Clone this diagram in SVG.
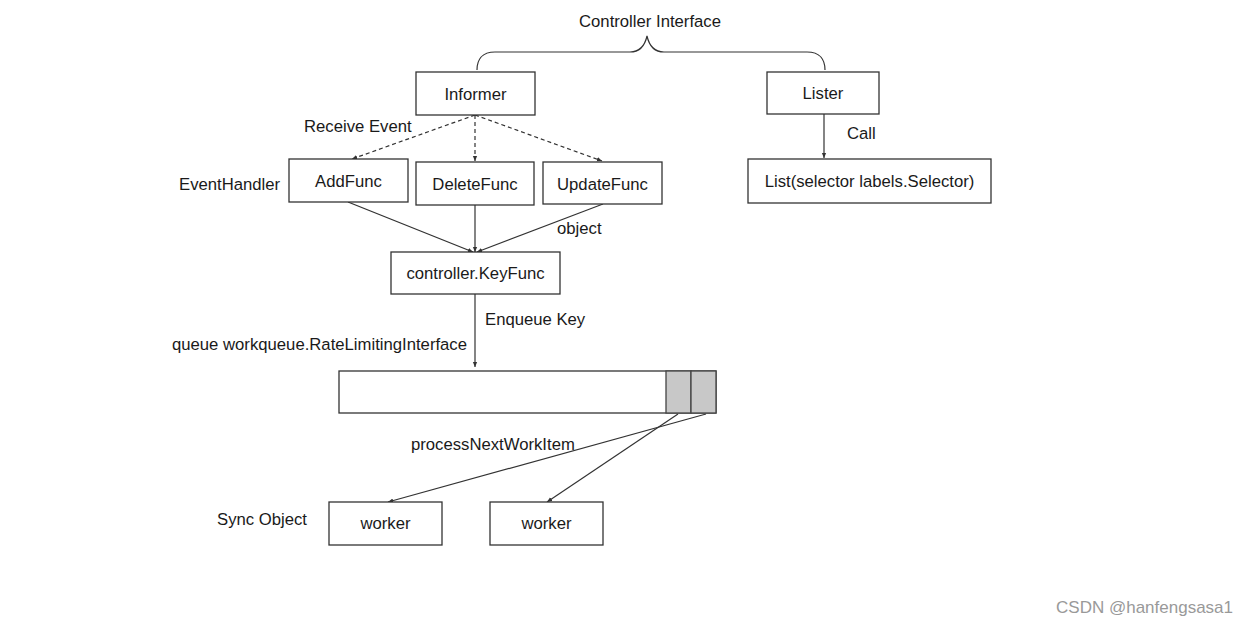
<svg xmlns="http://www.w3.org/2000/svg" width="1248" height="627" viewBox="0 0 1248 627">
<style>
.box{fill:#fff;stroke:#333;stroke-width:1.3}
.cell{fill:#c8c8c8;stroke:#444;stroke-width:1.3}
.t{font-family:"Liberation Sans",Arial,sans-serif;font-size:16.7px;fill:#1a1a1a}
.c{text-anchor:middle}
.ln{fill:none;stroke:#333;stroke-width:1.2}
.dash{stroke-dasharray:4 3}
</style>
<defs>
<marker id="ah" viewBox="0 0 8 8" refX="7" refY="4" markerWidth="6" markerHeight="6" orient="auto" markerUnits="userSpaceOnUse">
<path d="M0,1 L7,4 L0,7 z" fill="#333"/>
</marker>
</defs>
<rect width="1248" height="627" fill="#fff"/>

<g id="brace">
<text class="t c" x="650" y="27">Controller Interface</text>
<path class="ln" d="M477,70 C477,60 482,52 495,52 L630,52 C640,52 645,45 647,36 C649,45 654,52 664,52 L807,52 C820,52 825,60 825,70"/>
</g>

<g id="connectors">
<line class="ln dash" x1="475" y1="115" x2="352" y2="159" marker-end="url(#ah)"/>
<line class="ln dash" x1="475" y1="115" x2="475" y2="161" marker-end="url(#ah)"/>
<line class="ln dash" x1="475" y1="115" x2="602" y2="161" marker-end="url(#ah)"/>
<line class="ln" x1="824" y1="114" x2="824" y2="158" marker-end="url(#ah)"/>
<line class="ln" x1="348" y1="202" x2="473" y2="252" marker-end="url(#ah)"/>
<line class="ln" x1="475" y1="205" x2="475" y2="252" marker-end="url(#ah)"/>
<line class="ln" x1="603" y1="204" x2="477" y2="252" marker-end="url(#ah)"/>
<line class="ln" x1="475" y1="294" x2="475" y2="367" marker-end="url(#ah)"/>
<line class="ln" x1="706" y1="414" x2="388" y2="502" marker-end="url(#ah)"/>
<line class="ln" x1="678" y1="414" x2="547" y2="502" marker-end="url(#ah)"/>
<text class="t" x="304" y="132">Receive Event</text>
<text class="t" x="847" y="139">Call</text>
<text class="t" x="557" y="234">object</text>
<text class="t" x="485" y="325">Enqueue Key</text>
<text class="t" x="172" y="350">queue workqueue.RateLimitingInterface</text>
<text class="t" x="411" y="450">processNextWorkItem</text>
<text class="t" x="179" y="190">EventHandler</text>
<text class="t" x="217" y="525">Sync Object</text>
</g>

<g id="informer"><rect class="box" x="416" y="72" width="119" height="43"/><text class="t c" x="475.5" y="100">Informer</text></g>
<g id="lister"><rect class="box" x="767" y="72" width="112" height="42"/><text class="t c" x="823" y="99">Lister</text></g>
<g id="list"><rect class="box" x="748" y="159" width="243" height="44"/><text class="t c" x="869.5" y="187">List(selector labels.Selector)</text></g>
<g id="addfunc"><rect class="box" x="289" y="159" width="119" height="43"/><text class="t c" x="348.5" y="187">AddFunc</text></g>
<g id="deletefunc"><rect class="box" x="416" y="162" width="118" height="43"/><text class="t c" x="475" y="190">DeleteFunc</text></g>
<g id="updatefunc"><rect class="box" x="543" y="162" width="119" height="42"/><text class="t c" x="602.5" y="190">UpdateFunc</text></g>
<g id="keyfunc"><rect class="box" x="391" y="252" width="169" height="42"/><text class="t c" x="475.5" y="279">controller.KeyFunc</text></g>
<g id="queue">
<rect class="box" x="339" y="371" width="377" height="42"/>
<rect class="cell" x="666" y="371" width="25" height="42"/>
<rect class="cell" x="691" y="371" width="25" height="42"/>
</g>
<g id="worker1"><rect class="box" x="329" y="502" width="113" height="43"/><text class="t c" x="385.5" y="529">worker</text></g>
<g id="worker2"><rect class="box" x="490" y="502" width="113" height="43"/><text class="t c" x="546.5" y="529">worker</text></g>

<text x="1233" y="613" text-anchor="end" style="font-family:'Liberation Sans',Arial,sans-serif;font-size:17px;fill:#999">CSDN @hanfengsasa1</text>
</svg>
